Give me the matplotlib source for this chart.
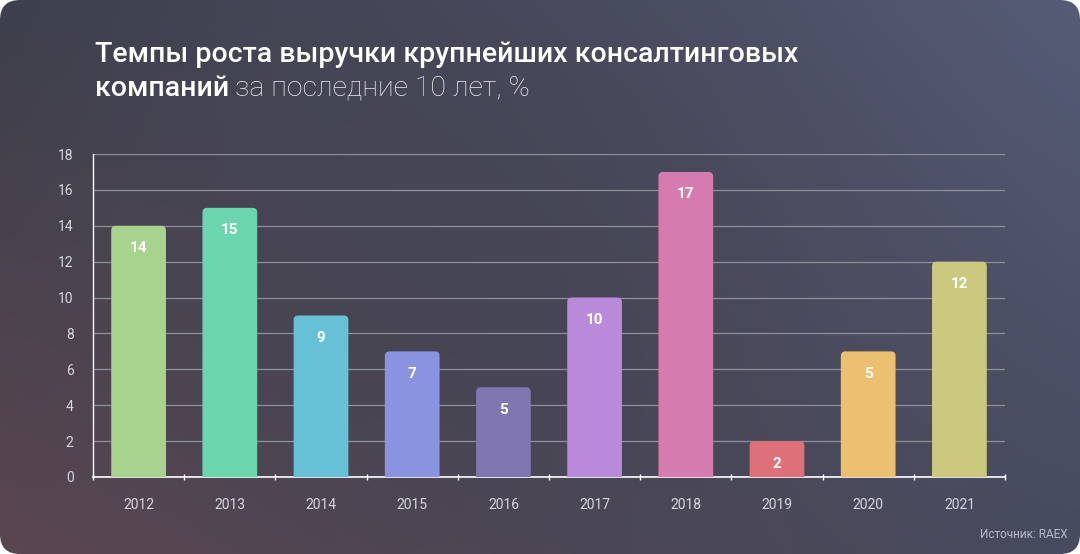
import numpy as np
import matplotlib.pyplot as plt
from matplotlib.patches import FancyBboxPatch
from matplotlib.ticker import FixedLocator

years = ['2012', '2013', '2014', '2015', '2016', '2017', '2018', '2019', '2020', '2021']
heights = [14, 15, 9, 7, 5, 10, 17, 2, 7, 12]
labels = ['14', '15', '9', '7', '5', '10', '17', '2', '5', '12']
colors = ['#a8d38e', '#6bd5ae', '#67c1d6', '#8a93e0', '#7f76b2',
          '#b88ad9', '#d57baf', '#de7079', '#ecc06e', '#cbc97e']

plt.rcParams['font.family'] = ['Roboto', 'DejaVu Sans']

W, H = 1080, 554
fig = plt.figure(figsize=(W / 100, H / 100), dpi=100)
fig.patch.set_facecolor('white')

# background card with gradient and rounded corners
bg = fig.add_axes([0, 0, 1, 1])
bg.set_axis_off()
tl = np.array([0x3d, 0x3f, 0x4c]) / 255
tr = np.array([0x57, 0x5c, 0x77]) / 255
bl = np.array([0x5c, 0x46, 0x50]) / 255
br = np.array([0x46, 0x4b, 0x5f]) / 255
u = np.linspace(0, 1, 216)[None, :, None]
v = np.linspace(0, 1, 111)[:, None, None]
img = (1 - v) * ((1 - u) * tl + u * tr) + v * ((1 - u) * bl + u * br)
center = np.array([0x3e, 0x40, 0x4d]) / 255
d = np.exp(-(((u - 0.45) / 0.35) ** 2 + ((v - 0.5) / 0.6) ** 2))
img = img * (1 - 0.5 * d) + center * 0.5 * d
im = bg.imshow(img, extent=[0, W, H, 0], aspect='auto', interpolation='bilinear')
bg.set_xlim(0, W)
bg.set_ylim(H, 0)
card = FancyBboxPatch((0, 0), W, H, boxstyle='round,pad=0,rounding_size=20',
                      transform=bg.transData, facecolor='none', edgecolor='none')
bg.add_patch(card)
im.set_clip_path(card)

# title
t1 = fig.text(95 / W, 1 - 54 / H, 'Темпы роста выручки крупнейших консалтинговых',
              color='white', fontsize=20.5, fontweight='medium', va='center', ha='left')
t2 = fig.text(95 / W, 1 - 88 / H, 'компаний', color='white', fontsize=20.5,
              fontweight='medium', va='center', ha='left')
fig.canvas.draw()
ext = t2.get_window_extent()
fig.text(ext.x1 / W + 6 / W, 1 - 88 / H, 'за последние 10 лет, %', color='#ecedf2',
         fontsize=20.5, fontweight='light', va='center', ha='left')

# chart
ax = fig.add_axes([93 / W, 1 - 477 / H, 912 / W, 323 / H])
ax.set_facecolor('none')
ax.set_xlim(-0.5, len(years) - 0.5)
ax.set_ylim(0, 18)
ax.set_yticks(range(0, 19, 2))
ax.grid(axis='y', color='#8e909c', linewidth=0.9)
ax.set_axisbelow(True)

bw = 0.6
for i, (h, c, lab) in enumerate(zip(heights, colors, labels)):
    p = FancyBboxPatch((i - bw / 2, -2), bw, h + 2,
                       boxstyle='round,pad=0,rounding_size=0.05',
                       mutation_aspect=5.1, facecolor=c, edgecolor='none', zorder=3)
    ax.add_patch(p)
    ax.text(i, h - 1.25, lab, ha='center', va='center', color='white',
            fontsize=11, fontweight='bold', zorder=4)

ax.set_xticks(range(len(years)))
ax.set_xticklabels(years)
ax.xaxis.set_minor_locator(FixedLocator(np.arange(-0.5, len(years), 1.0)))
ax.tick_params(axis='x', which='major', length=0, pad=15, labelsize=10, labelcolor='#d6d7de')
ax.tick_params(axis='x', which='minor', length=5, width=1, color='white', direction='inout')
ax.tick_params(axis='y', length=0, pad=14, labelsize=10, labelcolor='#d6d7de')
for s in ['top', 'right']:
    ax.spines[s].set_visible(False)
ax.spines['left'].set_color('white')
ax.spines['bottom'].set_color('white')
ax.spines['left'].set_linewidth(1)
ax.spines['bottom'].set_linewidth(1.2)

fig.text(1068 / W, 1 - 535 / H, 'Источник: RAEX', color='#b9bbc7', fontsize=8.5,
         ha='right', va='center')

fig.savefig('out.png', dpi=100)
